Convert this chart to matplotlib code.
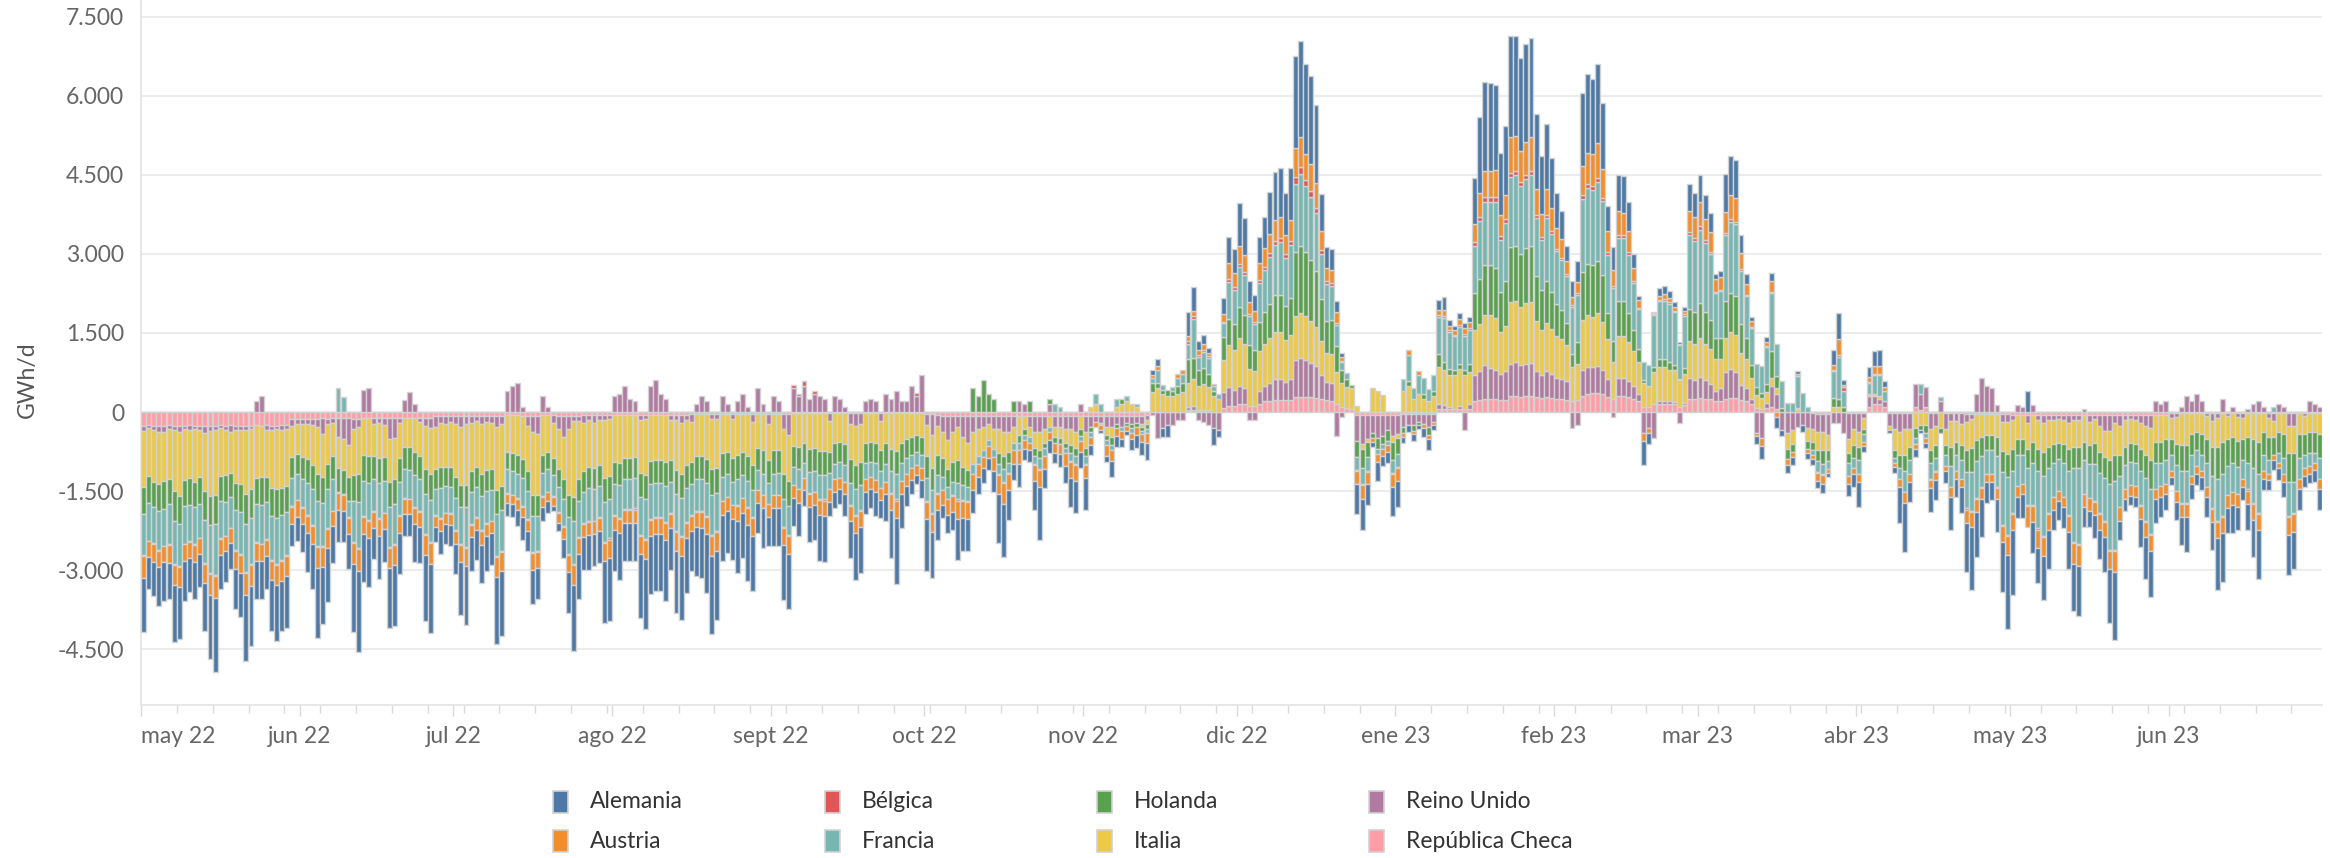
import numpy as np
import pandas as pd
import matplotlib
matplotlib.use("Agg")
import matplotlib.pyplot as plt
import matplotlib.dates as mdates
from matplotlib.patches import Rectangle
from matplotlib.ticker import FuncFormatter, FixedLocator

plt.rcParams['font.family'] = ['Lato', 'DejaVu Sans']

# daily net flows, GWh/d, from 1 May 2022 to 30 Jun 2023 (one week per line, weeks start on Sunday)
fechas = pd.date_range("2022-05-01", "2023-06-30", freq="D")

meses = {1: 'ene', 2: 'feb', 3: 'mar', 4: 'abr', 5: 'may', 6: 'jun',
         7: 'jul', 8: 'ago', 9: 'sept', 10: 'oct', 11: 'nov', 12: 'dic'}

rep_checa = [
    -260, -250, -260, -270, -260, -250, -260,
    -270, -260, -250, -260, -260, -270, -260,
    -270, -250, -260, -250, -260, -270, -260,
    -260, -250, -260, -250, -260, -260, -250,
    -240, -140, -140, -130, -130, -130, -130,
    -120, -130, -120, -120, -120, -120, -130,
    -130, -120, -120, -120, -120, -120, -120,
    -120, -110, -110, -110, -110, -110, -110,
    -110, -80, -80, -70, -80, -80, -80,
    -80, -80, -70, -80, -80, -80, -80,
    -80, -60, -60, -60, -70, -70, -70,
    -70, -60, -60, -60, -70, -70, -70,
    -70, -70, -60, -60, -60, -60, -60,
    -60, -60, -60, -60, -50, -50, -60,
    -60, -50, -50, -50, -50, -50, -50,
    -50, -50, -40, -40, -40, -40, -40,
    -40, -30, -30, -30, -30, -30, -30,
    -30, -30, -30, -30, -30, -30, -30,
    -30, -20, -20, -20, -20, -20, -20,
    -20, -20, -20, -20, -20, -20, -20,
    -20, -20, -20, -20, -20, -20, -20,
    -20, -20, -20, -20, -20, -20, -40,
    -40, -60, -80, -80, -80, -80, -80,
    -80, -80, -80, -80, -80, -80, -80,
    -80, -80, -80, -80, -80, -80, -80,
    -80, -80, -80, -80, -80, -80, -80,
    -80, -80, -80, -80, -80, -80, -80,
    -80, -80, -80, -80, -80, -80, -80,
    -60, 0, 0, 0, 0, 0, 0,
    0, 40, 40, 40, 40, 30, 0,
    0, 80, 120, 120, 150, 150, 120,
    120, 150, 200, 200, 220, 220, 220,
    220, 280, 290, 280, 280, 270, 250,
    220, 200, 150, 100, 80, 60, -50,
    -60, -60, -50, -50, -50, -50, -60,
    -60, -40, -40, -40, -30, -30, -30,
    -30, 60, 60, 50, 50, 60, 50,
    60, 200, 220, 240, 240, 240, 220,
    230, 300, 300, 290, 300, 300, 280,
    260, 280, 270, 250, 250, 230, 200,
    220, 300, 350, 370, 370, 350, 280,
    250, 300, 300, 280, 250, 200, 100,
    100, 150, 150, 150, 150, 150, 100,
    130, 250, 250, 260, 250, 240, 200,
    200, 250, 260, 260, 220, 200, 150,
    80, 60, 80, 100, 50, 0, 0,
    0, 0, 0, 0, -20, -30, -30,
    -30, 0, 0, 0, -20, -20, -20,
    -20, 100, 150, 150, 100, -20, -20,
    -20, -20, -20, 100, 40, 100, -20,
    -20, 0, -20, -20, -20, -20, -30,
    -30, -30, -30, -30, -30, -30, -40,
    -40, -60, -60, -60, -60, -60, -60,
    -60, -60, -60, -60, -60, -60, -60,
    -60, -60, -60, -60, -60, -60, -60,
    -60, -60, -60, -60, -60, -60, -60,
    -60, -60, -60, -60, -20, -20, -20,
    -20, -20, -20, -20, -20, -20, -20,
    -20, -20, -20, -20, -20, -20, -20,
    -20, -20, -20, -20, -20, -20, -20,
    -20, -20, -20, -20, -20, -20,
]

reino_unido = [
    -100, -60, -90, -100, -120, -80, -90,
    -110, -70, -100, -60, -90, -120, -100,
    -80, -60, -90, -120, -80, -70, -90,
    -60, 200, 300, -100, -80, -60, -90,
    -80, -120, -80, -100, -90, -120, -150,
    -300, -100, -80, -350, -400, -500, -200,
    -150, 420, 450, -100, -80, -120, -400,
    -380, -100, 230, 380, 150, -80, -150,
    -200, -200, -120, -150, -100, -150, -200,
    -150, -120, -100, -150, -100, -120, -200,
    -150, 400, 500, 550, 100, -200, -300,
    -350, 300, 100, -150, -250, -400, -250,
    -100, -100, -150, -100, -150, -100, -100,
    -80, 300, 350, 500, 250, 200, -100,
    -80, 500, 600, 350, 250, -100, -100,
    -150, -100, -150, 150, 300, 200, -100,
    -100, 300, 150, -100, 200, 350, 100,
    -150, 450, 150, -200, 300, 200, -300,
    -400, 450, 300, 500, 250, 350, 300,
    250, -150, 300, 250, 100, -200, -250,
    -200, 200, 250, 200, -150, 350, 250,
    400, 200, 200, 500, 300, 700, -200,
    -400, -200, -300, -450, -300, -200, -400,
    -500, -300, -250, -200, -150, -250, -250,
    -300, -300, -200, 200, 150, -200, -300,
    -300, -250, 150, -200, -200, -250, -250,
    -300, 150, -300, -200, -100, -120, -200,
    -200, -150, -200, -120, -150, -120, -150,
    -100, -60, -500, -300, -250, -250, -150,
    -150, 60, 80, -150, -180, -250, -300,
    -350, 300, 350, 300, 350, 300, -150,
    -150, 250, 300, 350, 400, 400, 350,
    400, 700, 740, 700, 650, 600, 450,
    350, 350, -450, -100, 0, 0, -500,
    -550, -450, -350, -450, -400, -300, -400,
    -350, -250, -200, -200, -150, -200, -250,
    -150, 100, 80, 50, 0, 50, -340,
    100, 500, 550, 650, 600, 550, 500,
    550, 610, 650, 600, 620, 630, 500,
    450, 500, 450, 400, 380, 350, -300,
    -250, 500, 500, 480, 500, 450, 350,
    -100, 350, 350, 300, 250, 150, -400,
    -300, -500, 50, 60, 50, 40, -200,
    50, 400, 350, 400, 350, 300, 200,
    250, 500, 550, 500, 300, 250, 100,
    -400, -500, 100, 400, 300, -350, -400,
    -350, -280, -250, -300, -300, -350, -350,
    -400, -200, -200, -400, -500, -300, -350,
    -100, 200, 150, 100, 100, -250, -300,
    -350, -300, -300, 440, 300, 380, -300,
    -250, 200, -300, -150, -150, -200, -150,
    -100, 350, 640, 490, 450, 130, -150,
    -150, -100, 130, 100, -150, 130, -100,
    -150, -100, -100, -80, -100, -150, -100,
    -100, 50, -120, -80, -200, -300, -300,
    -150, -200, -100, -80, -100, -150, -200,
    -250, 200, 150, 200, -100, -80, 100,
    300, 200, 350, 200, -50, -150, -100,
    250, -50, 100, -80, -100, 50, 150,
    200, 100, -100, -150, 150, 100, -250,
    -250, 0, -50, 200, 150, 100,
]

italia = [
    -1060, -900, -980, -1000, -920, -950, -1150,
    -1220, -960, -900, -1000, -880, -1100, -1230,
    -1230, -900, -850, -780, -1000, -1020, -1200,
    -1150, -1000, -980, -880, -1100, -1150, -1100,
    -1080, -600, -570, -620, -680, -760, -900,
    -820, -760, -640, -600, -580, -620, -860,
    -900, -700, -720, -620, -680, -620, -800,
    -780, -660, -560, -560, -640, -640, -820,
    -860, -800, -850, -820, -860, -1000, -1100,
    -1150, -920, -880, -950, -920, -880, -1200,
    -1180, -700, -720, -760, -820, -840, -1200,
    -1150, -760, -700, -660, -760, -800, -1250,
    -1450, -1100, -900, -880, -860, -850, -1100,
    -1080, -880, -900, -820, -820, -800, -1000,
    -1050, -880, -860, -860, -900, -760, -950,
    -980, -850, -760, -800, -800, -850, -950,
    -920, -750, -720, -740, -780, -720, -800,
    -820, -650, -700, -680, -700, -690, -850,
    -880, -620, -650, -560, -680, -660, -720,
    -720, -580, -560, -540, -580, -680, -740,
    -720, -560, -540, -560, -560, -570, -680,
    -720, -560, -500, -460, -420, -450, -600,
    -620, -560, -500, -550, -560, -640, -560,
    -520, -600, -500, -450, -300, -380, -450,
    -450, -380, -300, -350, -250, -200, -300,
    -350, -250, -200, -200, -220, -250, -300,
    -300, -250, -300, 100, 150, -50, -150,
    -200, 100, 150, 200, 150, 100, -50,
    -60, 380, 450, 350, 300, 300, 350,
    380, 450, 500, 450, 500, 450, 300,
    250, 600, 800, 750, 900, 850, 700,
    650, 750, 800, 850, 900, 900, 800,
    850, 850, 850, 850, 800, 750, 650,
    550, 550, 600, 450, 400, 400, 120,
    -100, -50, 460, 390, 320, 0, -100,
    -80, 400, 500, 250, 350, 250, 200,
    300, 700, 650, 600, 650, 700, 650,
    600, 850, 900, 950, 1000, 1000, 800,
    850, 1180, 1150, 1100, 1150, 1150, 950,
    850, 900, 850, 800, 750, 700, 650,
    700, 950, 1000, 950, 1000, 900, 750,
    700, 800, 800, 750, 650, 600, 450,
    400, 600, 650, 650, 600, 600, 500,
    550, 700, 700, 750, 700, 650, 600,
    550, 650, 700, 700, 600, 550, 400,
    250, 200, 200, 150, 100, 0, -300,
    -250, 50, 0, -250, -250, -350, -350,
    -300, 100, 100, 0, -250, -300, -300,
    -200, 50, 50, 50, 0, -80, -400,
    -450, -500, -350, -300, -250, -250, -400,
    -350, -300, -300, -500, -400, -400, -550,
    -550, -500, -450, -400, -400, -450, -550,
    -600, -550, -450, -450, -500, -500, -550,
    -550, -500, -450, -450, -450, -500, -500,
    -500, -500, -450, -450, -500, -500, -550,
    -600, -550, -500, -450, -450, -500, -550,
    -600, -500, -500, -450, -400, -500, -600,
    -600, -400, -350, -400, -450, -500, -550,
    -550, -450, -450, -450, -400, -450, -500,
    -550, -350, -350, -300, -350, -400, -500,
    -500, -400, -350, -350, -350, -400,
]

holanda = [
    -510, -520, -480, -500, -540, -470, -560,
    -530, -500, -520, -490, -510, -550, -560,
    -540, -480, -500, -460, -520, -540, -570,
    -550, -500, -520, -480, -540, -550, -520,
    -500, -400, -380, -420, -440, -460, -500,
    -480, -470, -430, -450, -460, -450, -500,
    -520, -480, -500, -440, -470, -440, -480,
    -470, -450, -420, -430, -450, -440, -480,
    -500, -380, -400, -360, -380, -400, -420,
    -430, -400, -380, -420, -400, -400, -450,
    -440, -330, -340, -350, -370, -380, -400,
    -400, -340, -330, -320, -350, -380, -420,
    -450, -420, -400, -410, -400, -400, -450,
    -440, -420, -430, -400, -410, -400, -450,
    -460, -440, -440, -430, -450, -420, -460,
    -460, -440, -420, -430, -440, -450, -480,
    -470, -450, -430, -450, -470, -450, -480,
    -480, -420, -440, -430, -440, -440, -480,
    -480, -400, -420, -380, -430, -440, -460,
    -460, -400, -400, -390, -400, -440, -460,
    -450, -380, -380, -390, -380, -390, -420,
    -440, -380, -350, -330, -320, -340, -420,
    -420, -380, -350, -350, -380, -420, -350,
    -320, 450, 300, 600, 350, 250, -200,
    -250, -200, 200, -150, -100, 200, -150,
    -150, -100, 100, -100, -100, -100, -150,
    -150, -120, -150, -100, 0, 0, -100,
    -150, -80, 100, -60, -80, -80, -80,
    -100, 170, 100, 60, 120, 100, 150,
    180, 450, 400, 300, 300, 250, 100,
    0, 450, 500, 500, 600, 550, 450,
    400, 550, 600, 650, 700, 700, 650,
    700, 1200, 1280, 1200, 1150, 1050, 800,
    600, 650, 500, 250, 150, 50, -300,
    -350, -300, -100, -200, -150, -200, -350,
    -300, -100, 80, -120, -60, 100, -150,
    100, 250, 150, 120, 100, 100, 100,
    150, 700, 850, 950, 950, 950, 750,
    850, 1050, 1050, 1000, 1050, 1080, 850,
    750, 800, 700, 600, 550, 400, 250,
    400, 900, 950, 990, 1000, 900, 500,
    400, 650, 650, 550, 400, 250, 50,
    0, 100, 150, 150, 150, 100, 30,
    100, 600, 600, 650, 600, 550, 400,
    400, 700, 750, 750, 550, 400, 250,
    150, 100, 150, 500, 240, 80, -200,
    -150, 30, 0, -150, -150, -200, -250,
    -200, 160, 150, 100, -200, -250, -250,
    -100, 0, 0, 0, 0, 0, -150,
    -250, -300, -250, -200, -100, -150, -250,
    -250, -100, -200, -350, -250, -300, -400,
    -450, -400, -350, -300, -300, -350, -400,
    -450, -400, -300, -300, -350, -400, -400,
    -450, -400, -350, -300, -350, -400, -400,
    -400, -350, -350, -400, -400, -400, -450,
    -500, -400, -350, -350, -350, -400, -450,
    -550, -400, -400, -400, -300, -400, -500,
    -500, -400, -350, -400, -450, -550, -600,
    -600, -500, -500, -500, -400, -500, -550,
    -600, -450, -450, -350, -400, -450, -550,
    -550, -450, -400, -400, -400, -450,
]

francia = [
    -790, -720, -680, -740, -700, -760, -820,
    -800, -720, -680, -700, -660, -820, -900,
    -980, -700, -650, -600, -760, -800, -920,
    -860, -720, -740, -700, -820, -860, -840,
    -820, -520, -500, -540, -620, -680, -860,
    -820, -740, -600, 450, 280, -300, -780,
    -880, -680, -700, -600, -660, -620, -760,
    -760, -640, -540, -560, -600, -600, -760,
    -800, -500, -560, -520, -500, -600, -700,
    -750, -600, -560, -640, -600, -580, -800,
    -780, -440, -450, -470, -520, -540, -680,
    -660, -440, -420, -400, -460, -520, -700,
    -820, -680, -600, -620, -600, -580, -750,
    -740, -600, -620, -560, -560, -580, -720,
    -760, -660, -640, -650, -680, -580, -700,
    -720, -640, -580, -600, -600, -640, -760,
    -720, -450, -430, -440, -480, -430, -500,
    -520, -380, -400, -400, -400, -410, -520,
    -540, -350, -380, -300, -400, -390, -450,
    -460, -320, -300, -300, -320, -420, -480,
    -470, -320, -300, -320, -330, -340, -420,
    -480, -340, -300, -260, -240, -260, -420,
    -440, -340, -250, -220, -250, -320, -280,
    -260, -200, -150, -120, -120, -150, -200,
    -250, -200, -150, -150, -100, -100, -150,
    -200, -150, -100, 150, 100, -100, -150,
    -150, -100, -150, -100, 200, 150, -100,
    -100, 150, -80, 100, -80, 60, -60,
    -80, 100, 250, 100, 0, 80, 150,
    160, 300, 750, 250, 300, 300, 100,
    100, 250, 700, 650, 750, 750, 550,
    500, 750, 800, 900, 950, 1000, 900,
    1000, 1300, 1350, 1250, 1200, 1100, 850,
    700, 650, 400, 150, 110, 0, -250,
    -300, -250, 0, -100, -100, -80, -250,
    -250, 230, 500, 200, 350, 300, 230,
    300, 700, 850, 700, 640, 700, 650,
    650, 900, 1100, 1200, 1200, 1250, 1000,
    1100, 1320, 1350, 1300, 1300, 1330, 1100,
    950, 1200, 1100, 1000, 950, 900, 900,
    900, 1400, 1450, 1430, 1500, 1400, 1100,
    1000, 1200, 1200, 1100, 900, 750, 350,
    400, 1000, 1100, 1100, 1100, 1000, 650,
    1000, 1400, 1350, 1400, 1300, 1250, 850,
    900, 1250, 1350, 1350, 1000, 800, 700,
    440, 520, 700, 1100, 600, 500, 170,
    170, 600, 360, 100, -100, -200, -200,
    -150, 520, 800, 300, -250, -200, -250,
    -150, 200, 350, 400, 200, 0, -100,
    -200, -400, -250, -100, 200, -100, -300,
    -250, 90, -200, -400, -300, -350, -700,
    -750, -700, -600, -450, -450, -600, -1000,
    -1100, -800, -600, -550, -700, -800, -1100,
    -1150, -850, -650, -600, -650, -850, -1400,
    -1450, -650, -650, -700, -750, -800, -1250,
    -1300, -600, -450, -450, -450, -650, -800,
    -850, -500, -450, -450, -300, -500, -600,
    -600, -400, -300, -300, -450, -600, -800,
    -800, -550, -550, -500, -350, -500, -650,
    -750, -300, -250, 100, -200, -300, -650,
    -600, -400, -250, -250, -200, -400,
]

belgica = [
    -20, 0, -20, -20, 0, -20, -20,
    -20, 0, -20, -20, 0, -20, -20,
    -20, -20, 0, 0, -20, -20, -20,
    -20, -20, 0, -20, -20, -20, -20,
    -20, -20, 0, -20, -20, -20, -20,
    -20, -20, 0, -20, -20, -20, -20,
    -20, -20, -20, -20, -20, 0, -20,
    -20, -20, -20, 0, -20, -20, -20,
    -20, -20, -20, 0, -20, -20, -20,
    -20, -20, -20, -20, -20, 0, -20,
    -20, -20, 0, -20, -20, -20, -20,
    -20, -20, 0, -20, -20, -20, -20,
    -20, -20, -20, -20, 0, -20, -20,
    -20, -20, -20, -20, -20, -20, -20,
    -20, -20, -20, -20, -20, -20, -20,
    -20, -20, -20, -20, -20, -20, -20,
    -20, 0, 0, 0, -20, 0, -20,
    -20, 0, 0, 0, 0, 0, -20,
    -20, 60, 40, 80, -20, 50, -20,
    -20, 0, 0, 0, 0, -20, -20,
    -20, 0, 0, 0, 0, 0, -20,
    -20, 0, 0, 0, 60, 0, -20,
    -20, -20, 0, 0, -20, -20, -20,
    -20, 0, 0, 0, 0, 0, -20,
    -20, -20, 0, 0, 0, 0, -20,
    -20, 0, 0, 0, 0, 0, -20,
    -20, 0, -20, 0, 0, 0, 0,
    0, 0, 0, 0, 0, 0, 0,
    0, 0, 0, 0, 0, 0, 0,
    0, 50, 60, 40, 40, 30, 0,
    0, 30, 50, 50, 60, 60, 40,
    40, 50, 60, 70, 80, 80, 70,
    80, 130, 140, 120, 120, 100, 80,
    60, 50, 40, 20, 0, 0, -20,
    -20, -20, 0, 0, 0, 0, -20,
    -20, 0, 0, 0, 0, 0, 0,
    0, 40, 40, 30, 30, 50, 40,
    40, 70, 80, 90, 90, 90, 70,
    80, 70, 80, 70, 80, 80, 60,
    60, 60, 60, 50, 50, 40, 30,
    40, 60, 70, 70, 80, 70, 50,
    40, 60, 60, 50, 40, 30, 0,
    0, 10, 30, 30, 30, 30, 0,
    30, 60, 60, 70, 60, 50, 20,
    20, 40, 50, 50, 40, 30, 20,
    0, 0, 20, 30, 0, 0, 0,
    0, 0, 0, 0, 0, -20, -20,
    0, 20, 30, 80, 0, 0, 0,
    0, 20, 20, 30, 0, 0, 0,
    0, 0, 0, 0, 0, 0, -20,
    -20, 0, 0, 0, 0, 0, -20,
    -20, -20, -20, 0, 0, -20, -20,
    -20, -20, 0, 0, -20, -20, -20,
    -20, -20, 0, 0, 0, -20, -20,
    -20, 0, 0, -20, -20, -20, -20,
    -20, 0, 0, 0, 0, -20, -20,
    -20, 0, 0, 0, 0, 0, -20,
    -20, 0, 0, 0, 0, -20, -20,
    -20, 0, 0, 0, 0, -20, -20,
    -20, 0, 0, 0, 0, 0, -20,
    -20, 0, 0, 0, 0, 0,
]

austria = [
    -410, -300, -330, -320, -310, -330, -390,
    -380, -320, -300, -310, -300, -360, -410,
    -410, -300, -290, -280, -330, -340, -420,
    -400, -330, -320, -300, -370, -380, -380,
    -370, -320, -320, -300, -320, -330, -400,
    -380, -360, -300, -320, -300, -300, -400,
    -420, -320, -330, -300, -320, -300, -380,
    -380, -320, -280, -280, -300, -300, -380,
    -400, -200, -220, -200, -210, -250, -330,
    -350, -240, -230, -260, -240, -230, -380,
    -370, -180, -180, -190, -200, -210, -320,
    -310, -180, -170, -170, -190, -220, -330,
    -380, -300, -250, -250, -240, -240, -350,
    -350, -260, -270, -250, -250, -260, -350,
    -360, -300, -300, -300, -320, -280, -350,
    -360, -300, -280, -290, -300, -320, -380,
    -360, -280, -270, -270, -290, -280, -320,
    -330, -250, -260, -260, -260, -260, -330,
    -340, -240, -250, -220, -260, -260, -290,
    -290, -230, -230, -220, -230, -280, -320,
    -310, -230, -220, -230, -230, -240, -300,
    -330, -250, -230, -220, -200, -220, -330,
    -340, -300, -280, -300, -300, -350, -330,
    -330, -300, -250, -220, -220, -250, -350,
    -400, -300, -250, -250, -180, -150, -300,
    -330, -250, -150, -200, -200, -250, -300,
    -300, -200, -250, -150, -100, -100, -200,
    -200, -150, -150, -100, -120, -150, -150,
    -180, 50, 80, 0, 0, 0, 70,
    80, 100, 80, 100, 120, 60, 40,
    0, 150, 300, 270, 350, 320, 230,
    210, 320, 350, 360, 400, 400, 370,
    400, 550, 570, 500, 500, 480, 350,
    250, 250, 200, 80, 0, 0, -250,
    -280, -230, -60, -150, -130, -130, -250,
    -240, -80, 90, -60, 80, -80, -80,
    -60, 80, 100, 80, 80, 100, 100,
    100, 350, 450, 500, 500, 520, 400,
    450, 680, 650, 600, 620, 650, 500,
    430, 500, 450, 400, 350, 250, 150,
    200, 550, 600, 610, 650, 550, 400,
    300, 450, 420, 400, 250, 150, -150,
    -100, 20, 80, 100, 80, 70, 20,
    50, 400, 400, 450, 400, 380, 250,
    250, 400, 450, 450, 300, 200, 100,
    -50, -150, 80, 200, -100, 0, -100,
    -100, 50, 0, -80, -80, -150, -160,
    -80, 100, 300, 40, -150, -100, -150,
    -80, 100, 150, 150, 80, 0, -80,
    -150, -200, -150, -100, 0, -80, -150,
    -150, 0, -100, -200, -150, -150, -250,
    -280, -250, -200, -150, -150, -200, -300,
    -350, -300, -200, -200, -400, -300, -350,
    -350, -300, -250, -200, -200, -300, -400,
    -400, -250, -250, -250, -300, -300, -350,
    -400, -250, -200, -200, -200, -250, -300,
    -300, -200, -200, -200, -120, -200, -250,
    -250, -150, -150, -120, -200, -250, -300,
    -300, -250, -250, -250, -150, -250, -300,
    -300, -150, -120, -100, -100, -150, -350,
    -330, -200, -150, -150, -130, -200,
]

alemania = [
    -1030, -610, -650, -730, -730, -690, -1070,
    -970, -750, -650, -710, -630, -910, -1210,
    -1410, -650, -590, -490, -770, -830, -1240,
    -1140, -730, -730, -630, -960, -1060, -950,
    -980, -420, -450, -520, -740, -860, -1320,
    -1090, -1030, -700, -610, -590, -670, -1290,
    -1540, -910, -940, -590, -820, -630, -1130,
    -1150, -780, -420, -410, -730, -670, -1250,
    -1300, -280, -450, -390, -390, -580, -1010,
    -1120, -640, -560, -720, -660, -620, -1280,
    -1240, -240, -250, -310, -420, -380, -660,
    -580, -270, -230, -100, -160, -360, -770,
    -1250, -850, -610, -650, -610, -610, -1170,
    -1200, -780, -880, -720, -720, -720, -1200,
    -1320, -1110, -1090, -1090, -1170, -780, -1180,
    -1200, -1030, -770, -930, -950, -1110, -1490,
    -1310, -870, -790, -770, -990, -860, -1060,
    -1050, -560, -750, -540, -710, -710, -1030,
    -1040, -530, -630, -300, -660, -650, -870,
    -880, -270, -310, -280, -420, -710, -890,
    -860, -430, -360, -450, -340, -510, -910,
    -1260, -650, -380, -270, -170, -340, -990,
    -870, -560, -250, -340, -340, -770, -620,
    -610, -430, -330, -280, -230, -400, -940,
    -1000, -570, -310, -440, -200, -210, -560,
    -1000, -370, -250, -190, -240, -320, -550,
    -620, -320, -610, -190, 0, -50, -110,
    -300, -200, -150, -80, -210, -260, -250,
    -330, 100, 120, -170, -220, 0, 0,
    0, 450, 470, 160, 160, 100, -330,
    -120, 300, 500, 450, 800, 700, 400,
    300, 500, 600, 800, 900, 940, 800,
    990, 1740, 1820, 1710, 1670, 1480, 710,
    400, 400, 220, 70, 0, 0, -570,
    -580, -410, -100, -350, -200, -200, -540,
    -500, -120, -140, -130, -90, -170, -210,
    -110, 190, 250, 110, 90, 120, 100,
    110, 880, 1450, 1690, 1670, 1600, 1180,
    1320, 1930, 1910, 1750, 1860, 1880, 1420,
    1100, 1220, 950, 650, 530, 280, 300,
    400, 1390, 1490, 1420, 1500, 1250, 480,
    440, 680, 690, 550, 250, 80, -450,
    -200, 20, 150, 150, 130, 100, 30,
    80, 520, 440, 510, 450, 350, 100,
    100, 720, 750, 720, 340, 190, 80,
    -150, -250, 100, 150, -200, -100, -150,
    -150, 50, -120, -120, -100, -150, -180,
    -70, 280, 490, 80, -230, -250, -480,
    -100, 190, 290, 300, 100, -50, -110,
    -690, -930, -380, -150, -50, -110, -450,
    -380, 0, -230, -620, -340, -500, -930,
    -1200, -850, -720, -400, -340, -620, -950,
    -1400, -1240, -410, -460, 390, -600, -670,
    -840, -740, -380, -360, -400, -690, -890,
    -940, -370, -300, -440, -550, -650, -1030,
    -1290, -370, -210, -180, -190, -530, -780,
    -880, -450, -380, -300, -150, -350, -540,
    -660, -280, -220, -240, -370, -530, -990,
    -930, -480, -530, -440, -250, -500, -710,
    -920, -210, -190, -180, -220, -290, -760,
    -700, -390, -200, -180, -220, -390,
]

# stacking order from the zero line outwards, legend order is alphabetical
paises = ["República Checa", "Reino Unido", "Italia", "Holanda",
          "Francia", "Bélgica", "Austria", "Alemania"]
valores = [rep_checa, reino_unido, italia, holanda, francia, belgica, austria, alemania]
colores = ["#ff9da7", "#b07aa1", "#edc948", "#59a14f",
           "#76b7b2", "#e15759", "#f28e2b", "#4e79a7"]

W, H = 2330, 858
fig = plt.figure(figsize=(W / 100, H / 100), dpi=100)
ax = fig.add_axes([141 / W, 1 - 705 / H, (2322 - 141) / W, 704 / H])

x = mdates.date2num(fechas)
pos_base = np.zeros(len(x))
neg_base = np.zeros(len(x))
for nombre, vals, col in zip(paises, valores, colores):
    v = np.asarray(vals, dtype=float)
    p = np.clip(v, 0, None)
    n = np.clip(v, None, 0)
    mp = p > 0
    mn = n < 0
    ax.bar(x[mp], p[mp], bottom=pos_base[mp], width=0.96, align='edge',
           color=col, edgecolor='#d2d2d2', linewidth=1.0, zorder=3)
    ax.bar(x[mn], n[mn], bottom=neg_base[mn], width=0.96, align='edge',
           color=col, edgecolor='#d2d2d2', linewidth=1.0, zorder=3)
    pos_base += p
    neg_base += n

# end just before 1 Jul 2023 so no 'jul 23' tick appears
ax.set_xlim(mdates.date2num(pd.Timestamp("2022-05-01")),
            mdates.date2num(pd.Timestamp("2023-06-30 23:00")))
ax.set_ylim(-5560, 7800)

# y axis
ax.yaxis.set_major_locator(FixedLocator(np.arange(-4500, 7501, 1500)))
ax.yaxis.set_major_formatter(FuncFormatter(lambda v, _: f"{int(round(v)):,}".replace(",", ".")))
ax.yaxis.grid(True, color='#ececec', linewidth=1.4, zorder=0)
ax.set_axisbelow(True)
ax.tick_params(axis='y', length=0, pad=12, labelsize=16.5, labelcolor='#666666')

# x axis: months and weekly minor ticks
ax.xaxis.set_major_locator(mdates.MonthLocator())
ax.xaxis.set_minor_locator(mdates.WeekdayLocator(byweekday=mdates.SU))
ax.xaxis.set_major_formatter(FuncFormatter(
    lambda v, _: f"{meses[mdates.num2date(v).month]} {mdates.num2date(v).year % 100}"))
ax.tick_params(axis='x', which='major', length=8, width=1, color='#d9d9d9',
               pad=7, labelsize=16.5, labelcolor='#666666')
ax.tick_params(axis='x', which='minor', length=6, width=1, color='#d9d9d9')

for s in ['top', 'right']:
    ax.spines[s].set_visible(False)
for s in ['left', 'bottom']:
    ax.spines[s].set_color('#e3e3e3')
    ax.spines[s].set_linewidth(1.2)

fig.canvas.draw()
labels = ax.get_xticklabels()
if labels:
    labels[0].set_horizontalalignment('left')

fig.text(27 / W, 1 - 380 / H, "GWh/d", rotation=90, ha='center', va='center',
         fontsize=16.5, color='#555555')

# legend, 4 columns x 2 rows
orden_leyenda = sorted(range(len(paises)), key=lambda i: paises[i])
for k, i in enumerate(orden_leyenda):
    colx = k // 2
    fila = k % 2
    xm = 553 + 272 * colx
    ym = 802 + 39 * fila
    fig.patches.append(Rectangle((xm / W, 1 - (ym + 11) / H), 15 / W, 22 / H,
                                 transform=fig.transFigure, facecolor=colores[i],
                                 edgecolor='#d2d2d2', linewidth=1.2))
    fig.text((xm + 37) / W, 1 - ym / H, paises[i], ha='left', va='center',
             fontsize=16.5, color='#333333')

fig.savefig("out.png", dpi=100)
